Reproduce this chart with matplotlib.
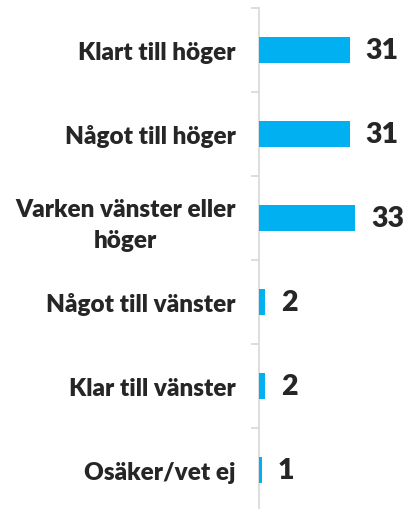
import matplotlib.pyplot as plt
import numpy as np

# ── DATA ──────────────────────────────────────────────────────────────────────
categories = ['Klart till höger', 'Något till höger', 'Varken vänster eller\nhöger',
              'Något till vänster', 'Klar till vänster', 'Osäker/vet ej']
values = [31, 31, 33, 2, 2, 1]

BAR_COLOR = '#00B0F0'
TEXT_COLOR = '#262626'
AXIS_COLOR = '#D9D9D9'

plt.rcParams['font.family'] = ['Lato', 'DejaVu Sans']

fig = plt.figure(figsize=(4.05, 5.10), dpi=100)
ax = fig.add_axes([259 / 405, -3 / 510, 1 - 259 / 405, 504 / 510])

y = np.arange(len(categories))
ax.barh(y, values, height=0.32, color=BAR_COLOR, zorder=3)

for yi, v in zip(y, values):
    ax.annotate(str(v), (v, yi), xytext=(11.5, 0), textcoords='offset points',
                va='center', ha='left', fontsize=20.5, fontweight='heavy',
                color=TEXT_COLOR)

ax.set_xlim(0, 50)
ax.set_ylim(len(categories) - 0.5, -0.5)

ax.set_yticks(y)
ax.set_yticklabels(categories, fontsize=17.5, fontweight='heavy', color=TEXT_COLOR,
                   multialignment='center', linespacing=1.5)
ax.tick_params(axis='y', which='major', length=0, pad=17)
ax.set_yticks(np.arange(len(categories) + 1) - 0.5, minor=True)
ax.tick_params(axis='y', which='minor', length=6, width=1.25, color=AXIS_COLOR)
ax.set_xticks([])

for s in ['top', 'right', 'bottom']:
    ax.spines[s].set_visible(False)
ax.spines['left'].set_color(AXIS_COLOR)
ax.spines['left'].set_linewidth(1.25)

fig.savefig('out.png', dpi=100, facecolor='white')
